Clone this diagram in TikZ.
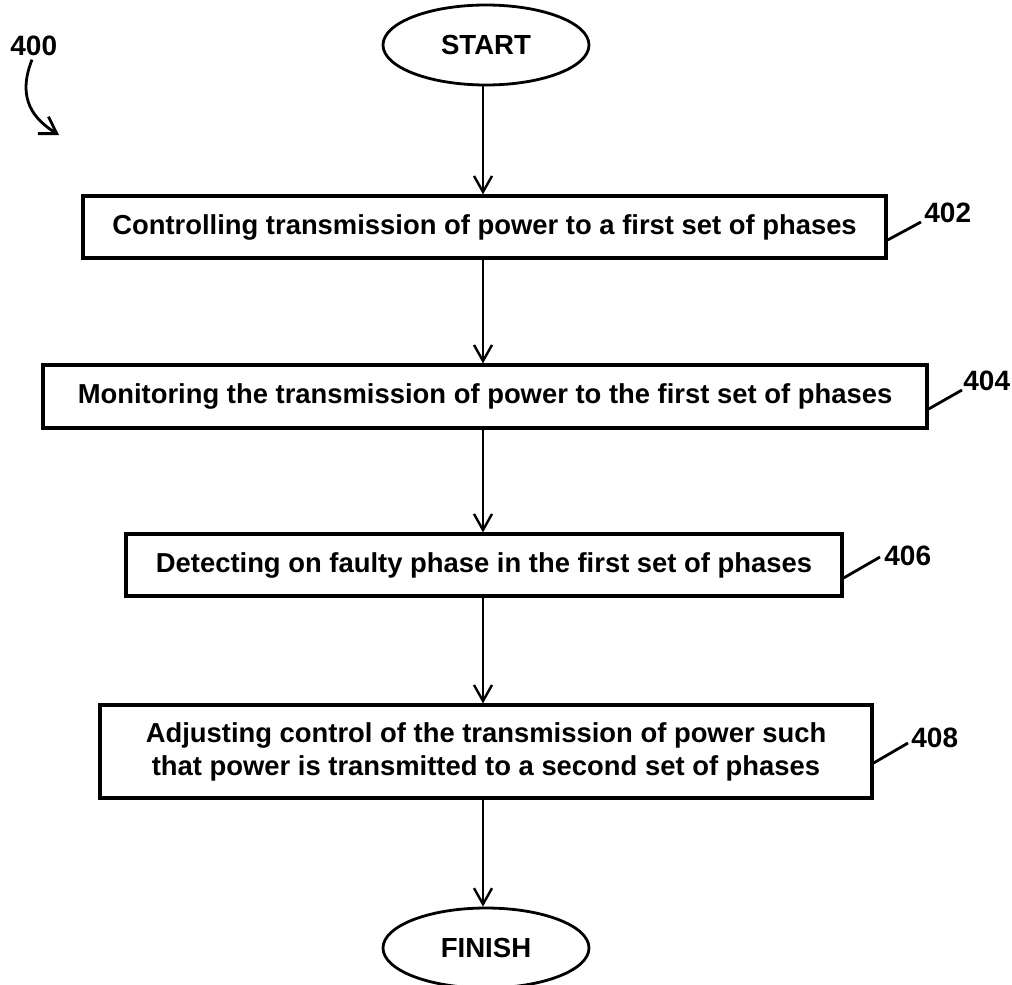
\documentclass[tikz,border=0pt]{standalone}
\usepackage{fontspec}
\setmainfont{Liberation Sans}
\usetikzlibrary{shapes.geometric,arrows.meta,calc}
\begin{document}
\begin{tikzpicture}[x=0.5pt,y=-0.5pt,
  term/.style={draw,ellipse,line width=1.4pt,minimum width=103pt,minimum height=40pt,inner sep=0pt,font=\bfseries\fontsize{13.8pt}{16pt}\selectfont},
  stepbox/.style={draw,rectangle,line width=1.6pt,inner sep=0pt,align=center,font=\bfseries\fontsize{13.7pt}{16.5pt}\selectfont},
  num/.style={inner sep=0pt,anchor=base west,font=\bfseries\fontsize{14pt}{16pt}\selectfont},
  flow/.style={line width=1.2pt,-{Straight Barb[length=8pt,width=9pt,line width=1.2pt]}},
  leader/.style={line width=1.4pt}]
\useasboundingbox (0,0) rectangle (1012,985);
\node[term] (start) at (486,45) {START};
\node[stepbox,minimum width=401.5pt,minimum height=31pt] (b402) at (484.5,227) {Controlling transmission of power to a first set of phases};
\node[stepbox,minimum width=442pt,minimum height=31.5pt] (b404) at (485,396.5) {Monitoring the transmission of power to the first set of phases};
\node[stepbox,minimum width=358pt,minimum height=31pt] (b406) at (484,565) {Detecting on faulty phase in the first set of phases};
\node[stepbox,minimum width=386pt,minimum height=46.5pt] (b408) at (486,751.5) {Adjusting control of the transmission of power such\\that power is transmitted to a second set of phases};
\node[term] (finish) at (486,948) {FINISH};

\draw[flow] (start.south -| 483,0) -- (b402.north -| 483,0);
\draw[flow] (b402.south -| 483,0) -- (b404.north -| 483,0);
\draw[flow] (b404.south -| 483,0) -- (b406.north -| 483,0);
\draw[flow] (b406.south -| 483,0) -- (b408.north -| 483,0);
\draw[flow] (b408.south -| 483,0) -- (finish.north -| 483,0);

\node[num] (l400) at (10,55) {400};
\node[num] (l402) at (924,222) {402};
\node[num] (l404) at (963,390) {404};
\node[num] (l406) at (884,565) {406};
\node[num] (l408) at (911,747) {408};

\draw[leader] (b402.east |- 0,240) -- ([xshift=-1.5pt]l402.base west);
\draw[leader] (b404.east |- 0,409) -- ([xshift=-0.5pt]l404.base west);
\draw[leader] (b406.east |- 0,578) -- ([xshift=-2pt,yshift=4pt]l406.base west);
\draw[leader] (b408.east |- 0,763) -- ([xshift=-1.5pt,yshift=2pt]l408.base west);

\coordinate (t400) at (59,135);
\draw[line width=1.4pt,-{Straight Barb[length=8pt,width=10pt,line width=1.4pt]}] ([xshift=11pt,yshift=-2pt]l400.south west) .. controls (16,100) and (35,120) .. (t400);
\end{tikzpicture}
\end{document}
